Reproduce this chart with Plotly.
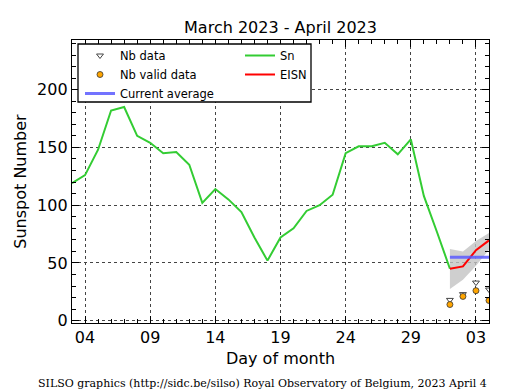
import plotly.graph_objects as go

# ---- data ----
sn_days = [3, 4, 5, 6, 7, 8, 9, 10, 11, 12, 13, 14, 15, 16, 17, 18, 19, 20,
           21, 22, 23, 24, 25, 26, 27, 28, 29, 30, 31, 32]
sn_values = [119, 126, 148, 182, 185, 160, 154, 145, 146, 135, 102, 114, 105, 94,
             72, 52, 72, 80, 95, 100, 109, 145, 151, 151, 154, 144, 157, 108, 77, 45]

eisn_days = [32, 33, 34, 35]
eisn_values = [45, 47, 61, 69.5]
eisn_upper = [62, 60, 69, 76]
eisn_lower = [27.5, 35.5, 47.5, 61.5]

avg_days = [32, 35]
avg_values = [55, 55]

nb_data = [18, 23, 33, 27]
nb_valid = [14, 21, 26, 17.5]

today_line = 31.07

tick_days = [4, 9, 14, 19, 24, 29, 34]
tick_labels = ["04", "09", "14", "19", "24", "29", "03"]

FONT = "DejaVu Sans"

# plot-area geometry in pixels (for placing legend/footer in paper coordinates)
W, H = 515, 390
L, R, T, B = 72, 26, 40, 67
PW, PH = W - L - R, H - T - B


def px(x):
    return (x - L) / PW


def py(y):
    return (H - B - y) / PH


fig = go.Figure()

# uncertainty band
fig.add_trace(go.Scatter(x=eisn_days, y=eisn_upper, mode="lines",
                         line=dict(width=0, color="rgba(0,0,0,0)"),
                         showlegend=False, hoverinfo="skip"))
fig.add_trace(go.Scatter(x=eisn_days, y=eisn_lower, mode="lines",
                         line=dict(width=0, color="rgba(0,0,0,0)"),
                         fill="tonexty", fillcolor="rgba(195,195,195,0.8)",
                         showlegend=False, hoverinfo="skip"))

fig.add_trace(go.Scatter(x=sn_days, y=sn_values, mode="lines", name="Sn",
                         line=dict(color="#33cc33", width=2), legend="legend2",
                         legendrank=1))
fig.add_trace(go.Scatter(x=eisn_days, y=eisn_values, mode="lines", name="EISN",
                         line=dict(color="#ff0000", width=2), legend="legend2",
                         legendrank=2))
fig.add_trace(go.Scatter(x=avg_days, y=avg_values, mode="lines", name="Current average",
                         line=dict(color="rgba(90,90,255,0.85)", width=3), legendrank=3))
fig.add_trace(go.Scatter(x=eisn_days, y=nb_data, mode="markers", name="Nb data",
                         marker=dict(symbol="triangle-down", size=6, color="white",
                                     line=dict(color="#444", width=1)),
                         legendrank=1))
fig.add_trace(go.Scatter(x=eisn_days, y=nb_valid, mode="markers", name="Nb valid data",
                         marker=dict(symbol="circle", size=6, color="#ffa500",
                                     line=dict(color="#333", width=0.8)),
                         legendrank=2))

fig.add_vline(x=today_line, line=dict(color="black", width=1.3))

axis_common = dict(
    showline=True, linecolor="black", linewidth=1.3, mirror="allticks",
    ticks="inside", ticklen=7, tickcolor="black", tickwidth=1,
    showgrid=True, gridcolor="#444", griddash="dot", gridwidth=1,
    zeroline=False,
    tickfont=dict(family=FONT, size=16, color="black"),
)

fig.update_xaxes(
    range=[3, 35], tickvals=tick_days, ticktext=tick_labels,
    minor=dict(dtick=1, tick0=3, ticks="inside", ticklen=4, tickcolor="black", showgrid=False),
    title=dict(text="Day of month", font=dict(family=FONT, size=16, color="black"), standoff=6),
    **axis_common,
)
fig.update_yaxes(
    range=[-2, 243], tickvals=[0, 50, 100, 150, 200],
    minor=dict(dtick=10, tick0=0, ticks="inside", ticklen=4, tickcolor="black", showgrid=False),
    title=dict(text="Sunspot Number", font=dict(family=FONT, size=16, color="black"), standoff=6),
    **axis_common,
)

legend_font = dict(family=FONT, size=11.5, color="black")

fig.update_layout(
    width=W, height=H,
    margin=dict(l=L, r=R, t=T, b=B),
    paper_bgcolor="white", plot_bgcolor="white",
    title=dict(text="March 2023 - April 2023", x=(L + W - R) / 2 / W, xanchor="center",
               y=1 - 27 / H, yanchor="middle",
               font=dict(family=FONT, size=16, color="black")),
    showlegend=True,
    legend=dict(x=px(80), y=py(41), xanchor="left", yanchor="top",
                bgcolor="rgba(0,0,0,0)", borderwidth=0, traceorder="normal",
                font=legend_font, itemwidth=30, tracegroupgap=0),
    legend2=dict(x=px(240), y=py(41), xanchor="left", yanchor="top",
                 bgcolor="rgba(0,0,0,0)", borderwidth=0, traceorder="normal",
                 font=legend_font, itemwidth=30, tracegroupgap=0),
    shapes=[dict(type="rect", xref="paper", yref="paper",
                 x0=px(78), x1=px(311), y0=py(102), y1=py(44),
                 fillcolor="white", line=dict(color="black", width=1.3), layer="above")],
    annotations=[dict(
        text="SILSO graphics (http://sidc.be/silso) Royal Observatory of Belgium, 2023 April 4",
        xref="paper", yref="paper", x=px(36), y=py(383),
        xanchor="left", yanchor="middle", showarrow=False,
        font=dict(family="DejaVu Serif", size=11, color="black"))],
)

fig.write_html("out.html", config={"displayModeBar": False},
               post_script="document.body.style.margin='0';document.body.style.padding='0';")
